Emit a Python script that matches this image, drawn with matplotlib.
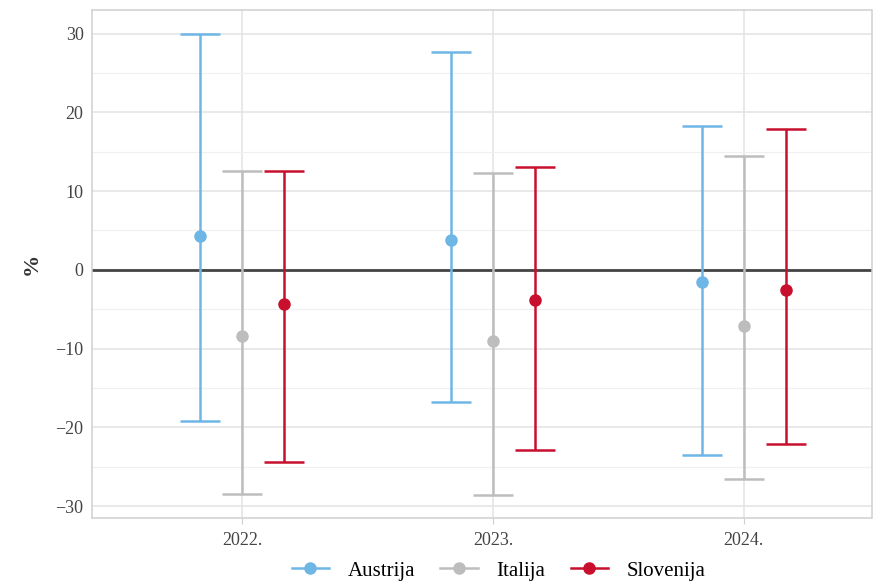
import numpy as np
import matplotlib.pyplot as plt
from matplotlib.lines import Line2D

years = ["2022.", "2023.", "2024."]
countries = ["Austrija", "Italija", "Slovenija"]
colors = ["#6DB6E6", "#BDBDBD", "#C8102E"]

# point estimate, lower, upper (%)
est = {"Austrija": [4.3, 3.8, -1.6],
       "Italija": [-8.4, -9.0, -7.1],
       "Slovenija": [-4.3, -3.8, -2.5]}
low = {"Austrija": [-19.2, -16.8, -23.5],
       "Italija": [-28.5, -28.6, -26.6],
       "Slovenija": [-24.4, -22.9, -22.1]}
high = {"Austrija": [30.0, 27.6, 18.3],
        "Italija": [12.5, 12.3, 14.5],
        "Slovenija": [12.5, 13.1, 17.9]}

plt.rcParams['font.family'] = ['Liberation Serif', 'DejaVu Serif']

fig = plt.figure(figsize=(8.75, 5.82), dpi=100)
ax = fig.add_axes([0.105, 0.110, 0.891, 0.873])

x = np.arange(len(years))
offsets = [-0.167, 0.0, 0.167]
for c, col, off in zip(countries, colors, offsets):
    e = np.array(est[c])
    lo = np.array(low[c])
    hi = np.array(high[c])
    ax.errorbar(x + off, e, yerr=[e - lo, hi - e], fmt='o', color=col,
                ecolor=col, elinewidth=1.8, capsize=14.5, capthick=1.8,
                markersize=8, zorder=3)

ax.axhline(0, color="#444444", lw=2, zorder=2)

ax.set_xlim(-0.6, 2.51)
ax.set_ylim(-31.5, 33.0)
ax.set_xticks(x)
ax.set_xticklabels(years)
ax.set_yticks([-30, -20, -10, 0, 10, 20, 30])
ax.set_yticks([-25, -15, -5, 5, 15, 25], minor=True)
ax.grid(which='major', color="#E3E3E3", lw=1.1, zorder=0)
ax.grid(which='minor', axis='y', color="#F0F0F0", lw=0.9, zorder=0)
ax.set_axisbelow(True)
for s in ax.spines.values():
    s.set_color("#D0D0D0")
    s.set_linewidth(1.1)
ax.tick_params(which='both', length=0, pad=6, labelsize=13, labelcolor="#444444")
ax.tick_params(axis='x', which='major', length=4, color="#D0D0D0", pad=6)
ax.set_ylabel("%", fontsize=16, color="#333333", labelpad=10, fontweight='bold')

handles = [Line2D([0], [0], color=col, lw=1.8, marker='o', markersize=8)
           for col in colors]
fig.legend(handles, countries, loc='lower center', ncol=3, frameon=False,
           bbox_to_anchor=(0.57, -0.03), fontsize=15, handlelength=1.8,
           columnspacing=1.2, handletextpad=0.9)

fig.savefig("out.png", dpi=100)
